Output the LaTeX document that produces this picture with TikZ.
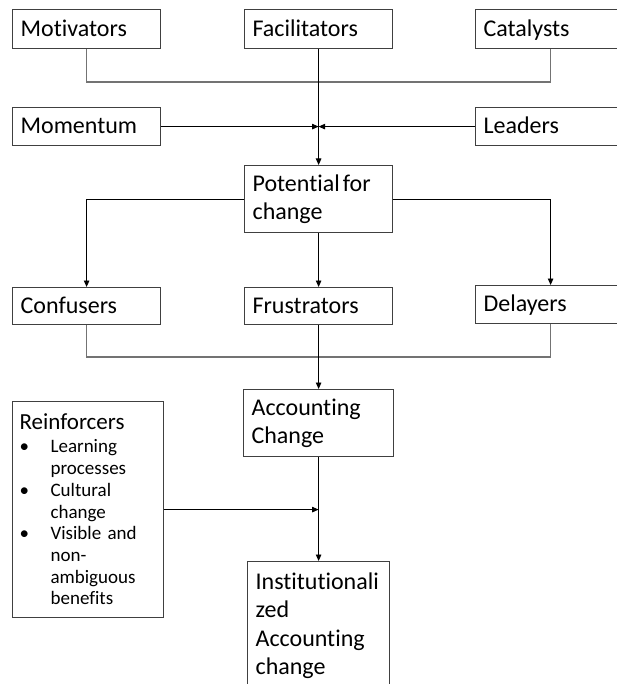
\documentclass[tikz,border=0pt]{standalone}
\usepackage{fontspec}
\setmainfont{Carlito}[Ligatures=NoCommon]
\usetikzlibrary{arrows.meta}
\newcommand{\bul}{\makebox[31pt][l]{\textbullet}}
\newcommand{\ind}{\hspace*{31pt}}
\begin{document}
\begin{tikzpicture}[x=1pt,y=-1pt,
  box/.style={draw=black!75, line width=1.2pt, rectangle, anchor=north west,
    inner xsep=8pt, inner ysep=0pt, align=left,
    font=\fontsize{24}{28.5}\selectfont},
  oneline/.style={text height=18.5pt, text depth=4.5pt},
  arr/.style={draw=black, line width=0.9pt, -{Triangle[length=6.5pt,width=5.5pt]}},
  brk/.style={draw=black!55, line width=1.3pt}]
\useasboundingbox (0,0) rectangle (616,684);
\fill[white] (0,0) rectangle (616,684);

% top row
\node[box, oneline, minimum width=148pt, minimum height=39pt, text width=132pt] (mot) at (12,9) {Motivators};
\node[box, oneline, minimum width=148pt, minimum height=39pt, text width=132pt] (fac) at (244,9) {Facilitators};
\node[box, oneline, minimum width=150pt, minimum height=39pt, text width=134pt] (cat) at (475,9) {Catalysts};

% second row
\node[box, oneline, minimum width=148pt, minimum height=38pt, text width=132pt] (mom) at (12,107) {Momentum};
\node[box, oneline, minimum width=150pt, minimum height=38pt, text width=134pt] (lead) at (475,107) {Leaders};

% potential
\node[box, minimum width=148pt, minimum height=67pt, text width=132pt] (pot) at (244,165) {Potential\hspace{3pt}for\\change};

% third row
\node[box, oneline, minimum width=148pt, minimum height=37pt, text width=132pt] (conf) at (12,287) {Confusers};
\node[box, oneline, minimum width=148pt, minimum height=37pt, text width=132pt] (fru) at (244,287) {Frustrators};
\node[box, oneline, minimum width=150pt, minimum height=38pt, text width=134pt] (del) at (475,285) {Delayers};

% accounting change
\node[box, minimum width=150pt, minimum height=67pt, text width=134pt] (acc) at (243,389) {Accounting\\Change};

% reinforcers
\node[box, inner xsep=7pt, minimum width=151pt, minimum height=216pt, text width=137pt,
  font=\fontsize{19}{21.7}\selectfont] (reinf) at (12,401)
  {{\fontsize{23}{28}\selectfont Reinforcers}\\[1.3pt]
   \bul Learning\\ \ind processes\\
   \bul Cultural\\ \ind change\\
   \bul Visible and\\ \ind non-\\ \ind ambiguous\\ \ind benefits};

% institutionalized
\node[box, inner ysep=11pt, minimum width=142pt, text width=126pt] (inst) at (247,561)
  {Institutionali\\zed\\Accounting\\change};

% connectors
\coordinate (topbar) at (0,82);
\draw[brk] (mot.south) -- (mot.south |- topbar) -- (cat.south |- topbar) -- (cat.south);
\coordinate (m1) at (fac.south |- mom.east);
\draw[arr] (fac.south) -- (pot.north);
\draw[arr] (mom.east) -- (m1);
\draw[arr] (lead.west) -- (m1);

\draw[arr] (pot.west) -| (conf.north);
\draw[arr] (pot.east) -| (del.north);
\draw[arr] (pot.south) -- (fru.north);

\coordinate (botbar) at (0,357);
\draw[brk] (conf.south) -- (conf.south |- botbar) -- (del.south |- botbar) -- (del.south);
\draw[arr] (fru.south) -- (acc.north);

\draw[arr] (acc.south) -- (inst.north);
\coordinate (m2) at (acc.south |- reinf.east);
\draw[arr] (reinf.east) -- (m2);
\end{tikzpicture}
\end{document}
